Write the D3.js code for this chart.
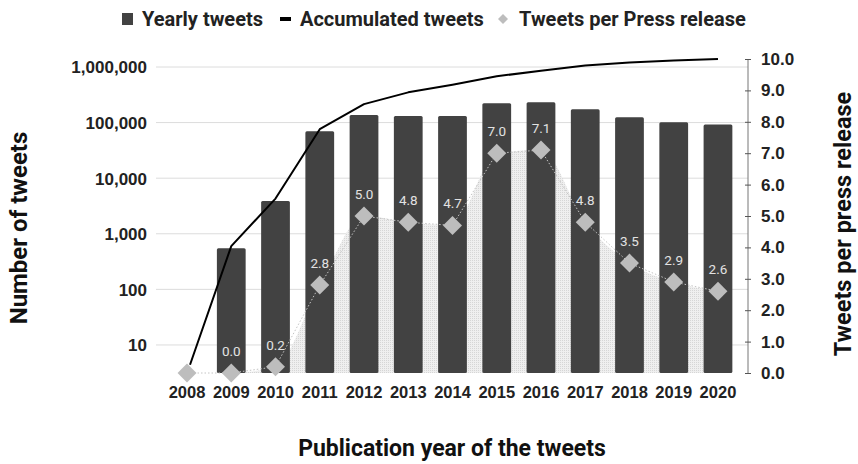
<!DOCTYPE html>
<html><head><meta charset="utf-8">
<script src="https://cdn.jsdelivr.net/npm/d3@7"></script>
<style>
body{margin:0;background:#fff;}
svg{font-family:Roboto,"Noto Sans",sans-serif;}
</style></head>
<body><svg id="c" width="858" height="464"></svg>
<script>
const years = ["2008","2009","2010","2011","2012","2013","2014","2015","2016","2017","2018","2019","2020"];
const yearlyTweets = [3, 550, 3900, 70000, 137000, 132000, 132000, 222000, 232000, 174000, 125000, 101000, 92000];
const accumulatedTweets = [4.4, 600, 4300, 76000, 215000, 350000, 480000, 680000, 860000, 1060000, 1200000, 1310000, 1400000];
const perPressRelease = [0.0, 0.0, 0.2, 2.8, 5.0, 4.8, 4.7, 7.0, 7.1, 4.8, 3.5, 2.9, 2.6];
const perPressLabels = ["", "0.0", "0.2", "2.8", "5.0", "4.8", "4.7", "7.0", "7.1", "4.8", "3.5", "2.9", "2.6"];
const leftTicks = [10, 100, 1000, 10000, 100000, 1000000];
const rightTicks = [0,1,2,3,4,5,6,7,8,9,10];

const svg = d3.select("#c");
const plotTop = 59, plotBottom = 373, gridLeft = 156, axisRight = 748;

const x = d3.scaleBand().domain(years).range([164.9, 740.1]).paddingInner(0.35).paddingOuter(0.175);
const yL = d3.scaleLog().domain([3.13, 1.393e6]).range([plotBottom, plotTop]).clamp(true);
const yR = d3.scaleLinear().domain([0, 10]).range([plotBottom, plotTop]);

// pattern for area
const defs = svg.append("defs");
const pat = defs.append("pattern").attr("id","dots").attr("width",2).attr("height",2).attr("patternUnits","userSpaceOnUse");
pat.append("rect").attr("width",2).attr("height",2).attr("fill","#efefef");
pat.append("rect").attr("width",1).attr("height",1).attr("fill","#d6d6d6");

// gridlines
svg.append("g").selectAll("line").data(leftTicks).join("line")
  .attr("x1", gridLeft).attr("x2", axisRight)
  .attr("y1", d => yL(d)).attr("y2", d => yL(d))
  .attr("stroke", "#dcdcdc").attr("stroke-width", 1);

// left axis labels
const leftAxis = d3.axisLeft(yL).tickValues(leftTicks).tickFormat(d3.format(",")).tickSize(0).tickPadding(0);
const gL = svg.append("g").attr("transform", `translate(147,0)`).call(leftAxis);
gL.select(".domain").remove();
gL.selectAll("text").attr("font-size", 17).attr("font-weight", 700).attr("fill", "#222").attr("dy","0.35em");

// area
const cx = d => x(d) + x.bandwidth()/2;
const area = d3.area().x((d,i) => cx(years[i])).y0(plotBottom).y1(d => yR(d)).curve(d3.curveMonotoneX);
svg.append("path").datum(perPressRelease).attr("d", area).attr("fill", "url(#dots)");

// bars
svg.append("g").selectAll("rect").data(yearlyTweets).join("rect")
  .attr("x", (d,i) => x(years[i])).attr("width", x.bandwidth())
  .attr("y", d => yL(d)).attr("height", d => plotBottom - yL(d))
  .attr("rx", 1.5).attr("fill", "#424242");

// dotted line between diamonds
const pline = d3.line().x((d,i) => cx(years[i])).y(d => yR(d));
svg.append("path").datum(perPressRelease).attr("d", pline).attr("fill","none")
  .attr("stroke","#c4c4c4").attr("stroke-width",1).attr("stroke-dasharray","1.5,2");

// accumulated line
const aline = d3.line().x((d,i) => cx(years[i]) + (i===0?3:0)).y(d => yL(d));
svg.append("path").datum(accumulatedTweets).attr("d", aline).attr("fill","none")
  .attr("stroke","#000").attr("stroke-width",2).attr("stroke-linejoin","round");

// diamonds
const sym = d3.symbol().type(d3.symbolSquare).size(180);
svg.append("g").selectAll("path").data(perPressRelease).join("path")
  .attr("d", sym)
  .attr("transform", (d,i) => `translate(${cx(years[i])},${yR(d)}) rotate(45)`)
  .attr("fill", "#bdbdbd");

// value labels
svg.append("g").selectAll("text").data(perPressRelease).join("text")
  .attr("x", (d,i) => cx(years[i])).attr("y", d => yR(d) - 17)
  .attr("text-anchor","middle").attr("font-size",13.5).attr("fill","#e2e2e2")
  .text((d,i) => perPressLabels[i]);

// right axis
const rightAxis = d3.axisRight(yR).tickValues(rightTicks).tickFormat(d3.format(".1f")).tickSize(4).tickPadding(9);
const gR = svg.append("g").attr("transform", `translate(${axisRight},0)`).call(rightAxis);
gR.select(".domain").attr("d", `M0,${plotTop}V${plotBottom}`).attr("stroke","#777");
gR.selectAll(".tick line").attr("x1",-3).attr("x2",3).attr("stroke","#555");
gR.selectAll("text").attr("font-size",17).attr("font-weight",700).attr("fill","#222");

// x axis labels
const xAxis = d3.axisBottom(x).tickSize(0).tickPadding(0);
const gX = svg.append("g").attr("transform", `translate(0,398)`).call(xAxis);
gX.select(".domain").remove();
gX.selectAll("text").attr("font-size",16.5).attr("font-weight",700).attr("fill","#222").attr("dy","0");

// axis titles
svg.append("text").attr("x", 452).attr("y", 456).attr("text-anchor","middle")
  .attr("font-size",23).attr("font-weight",700).attr("fill","#111").text("Publication year of the tweets");
svg.append("text").attr("transform","translate(27,228) rotate(-90)").attr("text-anchor","middle")
  .attr("font-size",24).attr("font-weight",700).attr("fill","#111").text("Number of tweets");
svg.append("text").attr("transform","translate(851,224) rotate(-90)").attr("text-anchor","middle")
  .attr("font-size",23.5).attr("font-weight",700).attr("fill","#111").text("Tweets per press release");

// legend
const lg = svg.append("g").attr("font-size",20).attr("font-weight",700).attr("fill","#222");
lg.append("rect").attr("x",122).attr("y",13).attr("width",11).attr("height",12).attr("fill","#424242");
lg.append("text").attr("x",142).attr("y",26).text("Yearly tweets");
lg.append("rect").attr("x",280).attr("y",17).attr("width",11).attr("height",4).attr("fill","#000");
lg.append("text").attr("x",300).attr("y",26).text("Accumulated tweets");
lg.append("path").attr("d", d3.symbol().type(d3.symbolSquare).size(50)()).attr("transform","translate(503,19) rotate(45)").attr("fill","#bdbdbd");
lg.append("text").attr("x",519).attr("y",26).text("Tweets per Press release");
</script></body></html>
